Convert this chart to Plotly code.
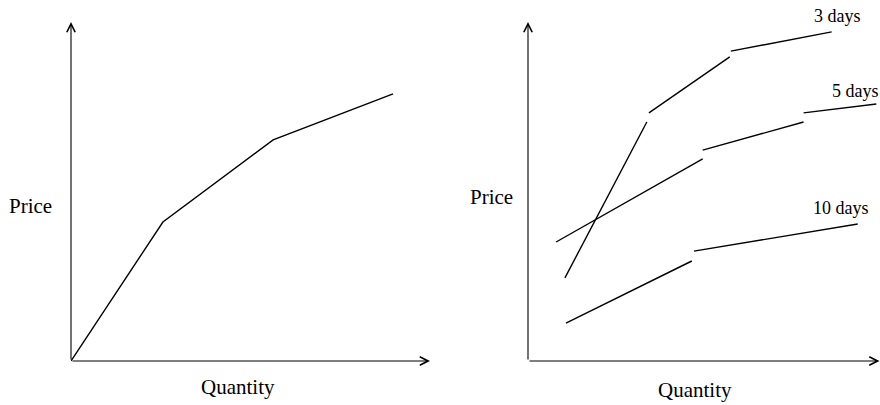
import plotly.graph_objects as go

# Left panel: single supply curve (Quantity, Price)
supply_q = [0.0, 2.56, 5.63, 8.97]
supply_p = [0.0, 4.10, 6.52, 7.88]

# Right panel: step-wise segments per horizon (None separates segments)
days3_q = [1.05, 3.38, None, 3.44, 5.74, None, 5.77, 8.64]
days3_p = [2.45, 7.05, None, 7.32, 8.97, None, 9.14, 9.71]
days5_q = [0.80, 4.97, None, 4.97, 7.84, None, 7.84, 9.91]
days5_p = [3.51, 5.96, None, 6.22, 7.05, None, 7.32, 7.58]
days10_q = [1.08, 4.66, None, 4.72, 9.38]
days10_p = [1.12, 2.95, None, 3.24, 4.04]

series_labels = ["3 days", "5 days", "10 days"]
axis_labels = ["Quantity", "Price"]

axis_max = 10.0
FONT = "Liberation Serif, Times New Roman, serif"
LINE = dict(color="black", width=1.4)

W, H = 880, 405
def px(X):
    return X / W
def py(Y):
    return 1 - Y / H

fig = go.Figure()
fig.add_trace(go.Scatter(x=supply_q, y=supply_p, mode="lines", line=LINE,
                         xaxis="x", yaxis="y", showlegend=False, hoverinfo="skip"))
for q, p in [(days3_q, days3_p), (days5_q, days5_p), (days10_q, days10_p)]:
    fig.add_trace(go.Scatter(x=q, y=p, mode="lines", line=LINE, connectgaps=False,
                             xaxis="x2", yaxis="y2", showlegend=False, hoverinfo="skip"))

ydom = [py(361), py(22)]
hidden = dict(visible=False, showgrid=False, zeroline=False, fixedrange=True)
fig.update_layout(
    width=W, height=H,
    margin=dict(l=0, r=0, t=0, b=0),
    paper_bgcolor="white", plot_bgcolor="white",
    xaxis=dict(domain=[px(71), px(430)], range=[0, axis_max], **hidden),
    yaxis=dict(domain=ydom, range=[0, axis_max], **hidden),
    xaxis2=dict(domain=[px(528), px(879.5)], range=[0, axis_max], anchor="y2", **hidden),
    yaxis2=dict(domain=ydom, range=[0, axis_max], anchor="x2", **hidden),
)

annotations = []
# axis arrows
for xr, yr in [("x", "y"), ("x2", "y2")]:
    for tip in [(axis_max, 0), (0, axis_max)]:
        annotations.append(dict(x=tip[0], y=tip[1], ax=0, ay=0, xref=xr, yref=yr,
                                axref=xr, ayref=yr, showarrow=True, arrowhead=5,
                                arrowsize=1.5, arrowwidth=1.1, arrowcolor="black",
                                standoff=0, startstandoff=0, text=""))
# axis labels (paper coordinates)
label_font = dict(family=FONT, size=21, color="black")
for (qx, qy), (pxx, pyy) in [((238, 387), (30.5, 206)), ((694.5, 389.5), (491, 197))]:
    annotations.append(dict(x=px(qx), y=py(qy), xref="paper", yref="paper",
                            text=axis_labels[0], showarrow=False, font=label_font,
                            xanchor="center", yanchor="middle"))
    annotations.append(dict(x=px(pxx), y=py(pyy), xref="paper", yref="paper",
                            text=axis_labels[1], showarrow=False, font=label_font,
                            xanchor="center", yanchor="middle"))
# series labels
for lab, (lx, ly) in zip(series_labels, [(837, 16), (855, 91), (841, 208)]):
    annotations.append(dict(x=px(lx), y=py(ly), xref="paper", yref="paper", text=lab,
                            showarrow=False, xanchor="center", yanchor="middle",
                            font=dict(family=FONT, size=18, color="black")))
fig.update_layout(annotations=annotations, hovermode=False, dragmode=False)

fig.write_html("out.html",
               config={"displayModeBar": False, "staticPlot": True},
               post_script="document.body.style.margin='0';document.body.style.overflow='hidden';")
